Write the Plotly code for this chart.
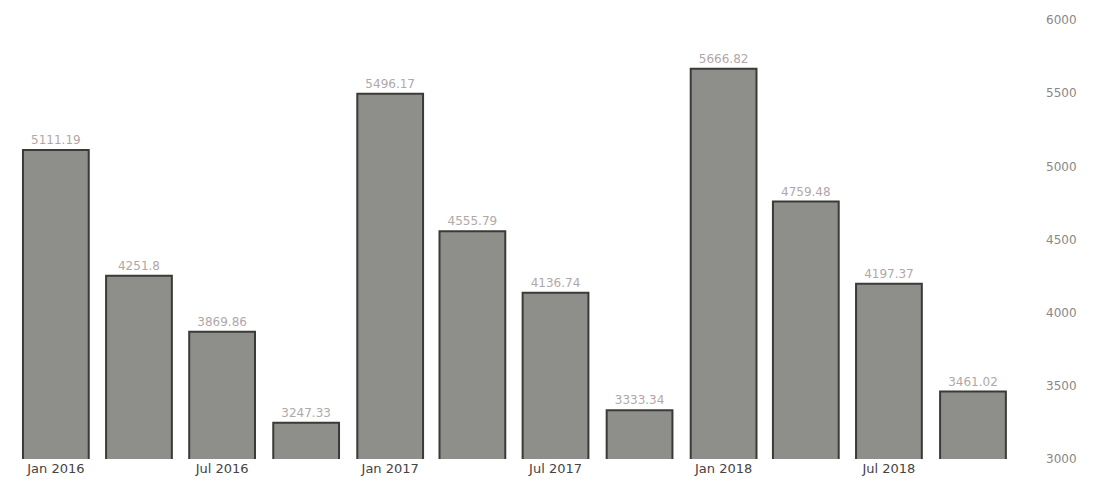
import plotly.graph_objects as go

periods = ["2016-01-01", "2016-04-01", "2016-07-01", "2016-10-01",
           "2017-01-01", "2017-04-01", "2017-07-01", "2017-10-01",
           "2018-01-01", "2018-04-01", "2018-07-01", "2018-10-01"]
values = [5111.19, 4251.8, 3869.86, 3247.33,
          5496.17, 4555.79, 4136.74, 3333.34,
          5666.82, 4759.48, 4197.37, 3461.02]
y_ticks = [3000, 3500, 4000, 4500, 5000, 5500, 6000]

fig = go.Figure()
fig.add_trace(go.Bar(
    x=periods, y=values,
    text=[f"{v:g}" for v in values],
    textposition="outside",
    textfont=dict(color="#b0a8a8", size=12, family="DejaVu Sans"),
    marker=dict(color="#8e8e8a", line=dict(color="#3a3a36", width=2)),
    cliponaxis=False,
))
fig.update_layout(
    width=1110, height=504,
    margin=dict(l=12, r=95, t=20, b=45),
    paper_bgcolor="white", plot_bgcolor="white",
    showlegend=False,
    bargap=0.2,
    font=dict(family="DejaVu Sans", color="#666"),
    xaxis=dict(type="date", tickformat="%b %Y", dtick="M6",
               tick0="2016-01-01",
               range=["2015-11-14", "2018-11-16"],
               showgrid=False, showline=False, ticks="",
               tickfont=dict(size=13, color="#444")),
    yaxis=dict(side="right", range=[3000, 6000], tickvals=y_ticks,
               showgrid=False, zeroline=False, showline=False,
               ticklabelstandoff=30,
               tickfont=dict(size=12, color="#888")),
)
fig.write_html("out.html")
